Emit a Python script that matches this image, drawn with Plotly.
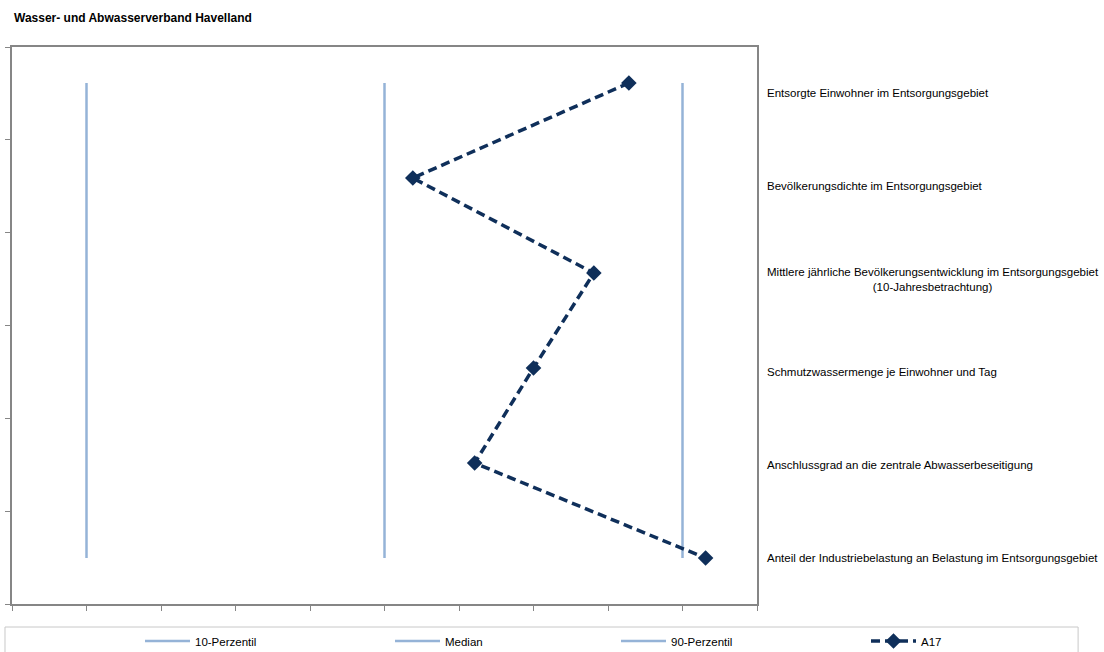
import plotly.graph_objects as go

title_text = "Wasser- und Abwasserverband Havelland"
categories = [
    "Entsorgte Einwohner im Entsorgungsgebiet",
    "Bevölkerungsdichte im Entsorgungsgebiet",
    "Mittlere jährliche Bevölkerungsentwicklung im Entsorgungsgebiet<br>(10-Jahresbetrachtung)",
    "Schmutzwassermenge je Einwohner und Tag",
    "Anschlussgrad an die zentrale Abwasserbeseitigung",
    "Anteil der Industriebelastung an Belastung im Entsorgungsgebiet",
]
series_names = ["10-Perzentil", "Median", "90-Perzentil", "A17"]
p10 = [1, 1, 1, 1, 1, 1]
median = [5, 5, 5, 5, 5, 5]
p90 = [9, 9, 9, 9, 9, 9]
a17 = [8.28, 5.38, 7.81, 7.0, 6.21, 9.31]

ypos = list(range(len(categories)))
n = len(categories)
FONT = "Liberation Sans Narrow, Arial Narrow, Liberation Sans, Arial, sans-serif"
light = "#95b3d7"
navy = "#0f2f5a"

legend_ids = ["legend", "legend2", "legend3", "legend4"]
legend_x_px = [140, 390, 616, 866]

fig = go.Figure()
for k, vals in enumerate([p10, median, p90]):
    fig.add_trace(go.Scatter(x=vals, y=ypos, mode="lines", name=series_names[k],
                             legend=legend_ids[k],
                             line=dict(color=light, width=2.5)))
fig.add_trace(go.Scatter(x=a17, y=ypos, mode="lines+markers", name=series_names[3],
                         legend=legend_ids[3],
                         line=dict(color=navy, width=3.5, dash="9px,5px"),
                         marker=dict(symbol="diamond", size=12, color=navy)))

for i, c in enumerate(categories):
    fig.add_annotation(text=c, xref="paper", x=1, xshift=8, xanchor="left",
                       yref="paper", y=1 - (i + 0.5) / n, yanchor="middle",
                       showarrow=False, align="center",
                       font=dict(family=FONT, size=11.5, color="#000000"))

# legend frame
fig.add_shape(type="rect", xref="paper", yref="paper",
              x0=-0.0094, x1=1.431, y0=-0.12, y1=-0.0413,
              line=dict(color="#c8c8c8", width=1), fillcolor="rgba(0,0,0,0)")

legend_common = dict(orientation="h", xref="container", yref="container",
                     y=1 - 641 / 652, xanchor="left", yanchor="middle",
                     itemwidth=45,
                     font=dict(family=FONT, size=11.5, color="#000"),
                     bgcolor="rgba(0,0,0,0)")
legends = {}
for lid, lx in zip(legend_ids, legend_x_px):
    legends[lid] = dict(legend_common, x=lx / 1104)

fig.update_layout(
    width=1104, height=652,
    margin=dict(l=12, r=347, t=47, b=48, autoexpand=False),
    paper_bgcolor="white", plot_bgcolor="white",
    title=dict(text="<b>" + title_text + "</b>", xref="container", yref="container",
               x=14 / 1104, y=1 - 18 / 652, xanchor="left", yanchor="middle",
               font=dict(family="Liberation Sans, Arial, sans-serif", size=12, color="#000")),
    showlegend=True,
    xaxis=dict(range=[0, 10], dtick=1, tick0=0, ticks="outside", ticklen=5,
               tickcolor="#868686", showticklabels=False, showgrid=False,
               zeroline=False, showline=True, linecolor="#868686", linewidth=1.5,
               mirror=True),
    yaxis=dict(range=[5.484, -0.379], tick0=-0.379, dtick=0.9772, ticks="outside",
               ticklen=5, tickcolor="#868686", showticklabels=False, showgrid=False,
               zeroline=False, showline=True, linecolor="#868686", linewidth=1.5,
               mirror=True),
    **legends,
)

fig.write_html("out.html")
